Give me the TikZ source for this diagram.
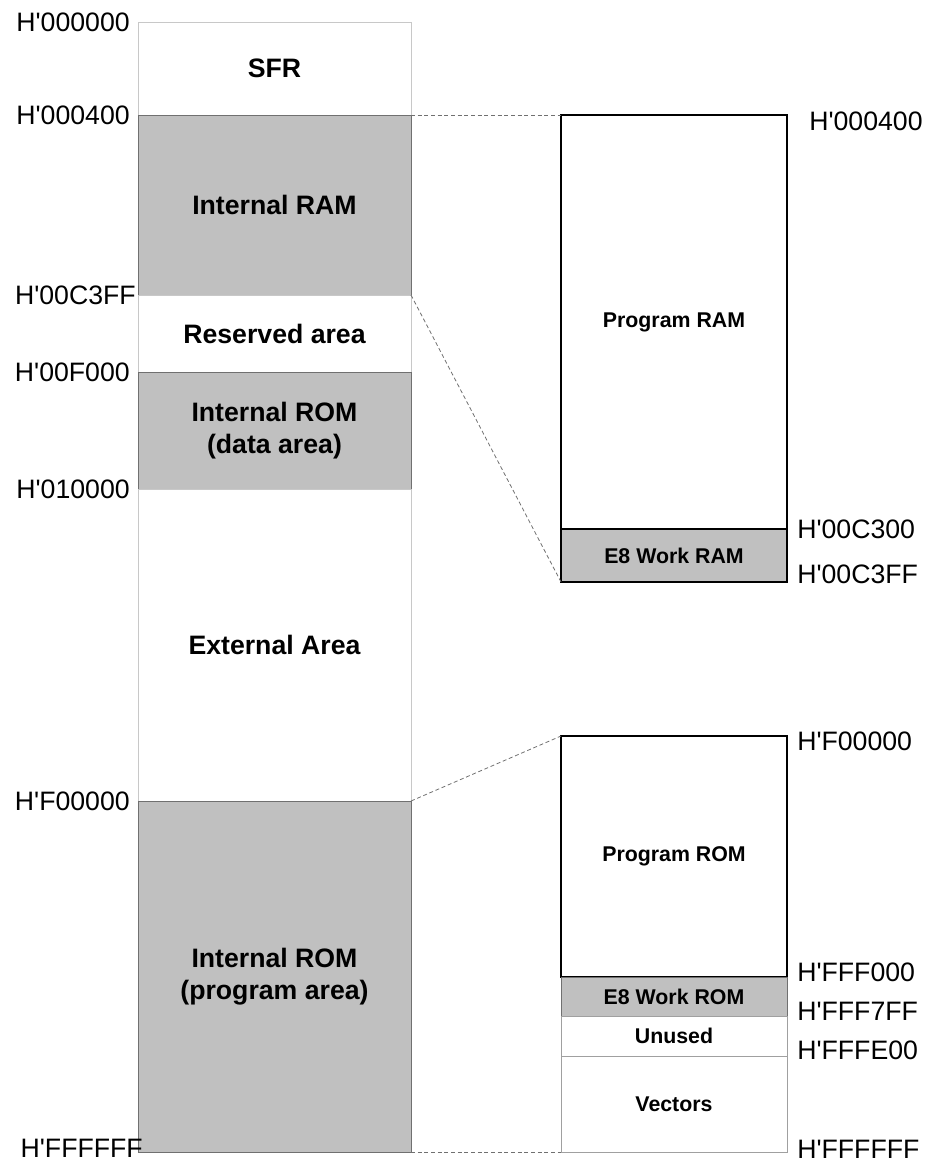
\documentclass[tikz,border=0pt]{standalone}
\usepackage{fontspec}
\setmainfont{Liberation Sans}
\usetikzlibrary{positioning}
\definecolor{memgray}{RGB}{192,192,192}
\definecolor{edgegray}{RGB}{112,112,112}
\definecolor{lightedge}{RGB}{200,200,200}
\newcommand{\hx}[1]{H\textquotesingle#1}
\begin{document}
\begin{tikzpicture}[x=0.75pt, y=-0.75pt,
                area/.style = {draw=lightedge, line width=0.6pt, fill=white, inner sep=0pt, outer sep=0pt,
                               minimum width=204.75pt, align=center, font=\fontsize{20}{24}\selectfont\bfseries},
                shaded/.style = {area, fill=memgray, draw=edgegray},
                detail/.style = {area, minimum width=169.5pt, font=\fontsize{16}{19}\selectfont\bfseries},
                framed/.style = {detail, draw=black, line width=1.2pt},
                addr/.style = {inner sep=0pt, font=\fontsize{20}{24}\selectfont},
                link/.style = {draw=edgegray, dashed, dash pattern=on 3pt off 2pt, line width=0.6pt},
            ]
            \useasboundingbox (0,0) rectangle (945,1163);

            \node (sfr) at (138,22) [area, anchor=north west, minimum height=69.75pt] {SFR};
            \node (ram) [shaded, below=0pt of sfr, minimum height=135pt] {Internal RAM};
            \node (rsv) [area, below=0pt of ram, minimum height=57.75pt] {Reserved area};
            \node (romd) [shaded, below=0pt of rsv, minimum height=87.75pt] {Internal ROM\\(data area)};
            \node (ext) [area, below=0pt of romd, minimum height=234pt] {External Area};
            \node (romp) [shaded, below=0pt of ext, minimum height=263.25pt] {Internal ROM\\(program area)};

            \node (pram) at (561,115) [framed, anchor=north west, minimum height=310.5pt] {Program RAM};
            \node (wram) [framed, fill=memgray, below=0pt of pram, minimum height=39.75pt] {E8 Work RAM};

            \node (prom) at (561,736) [framed, anchor=north west, minimum height=180.75pt] {Program ROM};
            \node (wrom) [detail, fill=memgray, draw=edgegray, below=0pt of prom, minimum height=29.25pt] {E8 Work ROM};
            \node (unused) [detail, draw=lightedge!80!black, below=0pt of wrom, minimum height=30pt] {Unused};
            \node (vec) [detail, draw=lightedge!80!black, below=0pt of unused, minimum height=72pt] {Vectors};

            \node [addr, left=6pt of sfr.north west] {\hx{000000}};
            \node [addr, left=6pt of ram.north west] {\hx{000400}};
            \node [addr, left=1.5pt of rsv.north west] {\hx{00C3FF}};
            \node [addr, left=6pt of romd.north west] {\hx{00F000}};
            \node [addr, left=6pt of ext.north west] {\hx{010000}};
            \node [addr, left=6pt of romp.north west] {\hx{F00000}};
            \node [addr, anchor=east, xshift=3.75pt, yshift=2.5pt] at (romp.south west) {\hx{FFFFFF}};

            \node [addr, anchor=west, xshift=16.5pt, yshift=-4.5pt] at (pram.north east) {\hx{000400}};
            \node [addr, anchor=west, xshift=7.5pt] at (wram.north east) {\hx{00C300}};
            \node [addr, anchor=west, xshift=7.5pt, yshift=6pt] at (wram.south east) {\hx{00C3FF}};
            \node [addr, anchor=west, xshift=7.5pt, yshift=-3.75pt] at (prom.north east) {\hx{F00000}};
            \node [addr, anchor=west, xshift=7.5pt, yshift=3.75pt] at (wrom.north east) {\hx{FFF000}};
            \node [addr, anchor=west, xshift=7.5pt, yshift=3.75pt] at (unused.north east) {\hx{FFF7FF}};
            \node [addr, anchor=west, xshift=7.5pt, yshift=4.5pt] at (vec.north east) {\hx{FFFE00}};
            \node [addr, anchor=west, xshift=7.5pt, yshift=2pt] at (vec.south east) {\hx{FFFFFF}};

            \draw [link] (sfr.south east) -- (pram.north west);
            \draw [link] (ram.south east) -- (wram.south west);
            \draw [link] (ext.south east) -- (prom.north west);
            \draw [link] (romp.south east) -- (vec.south west);
        \end{tikzpicture}
\end{document}
